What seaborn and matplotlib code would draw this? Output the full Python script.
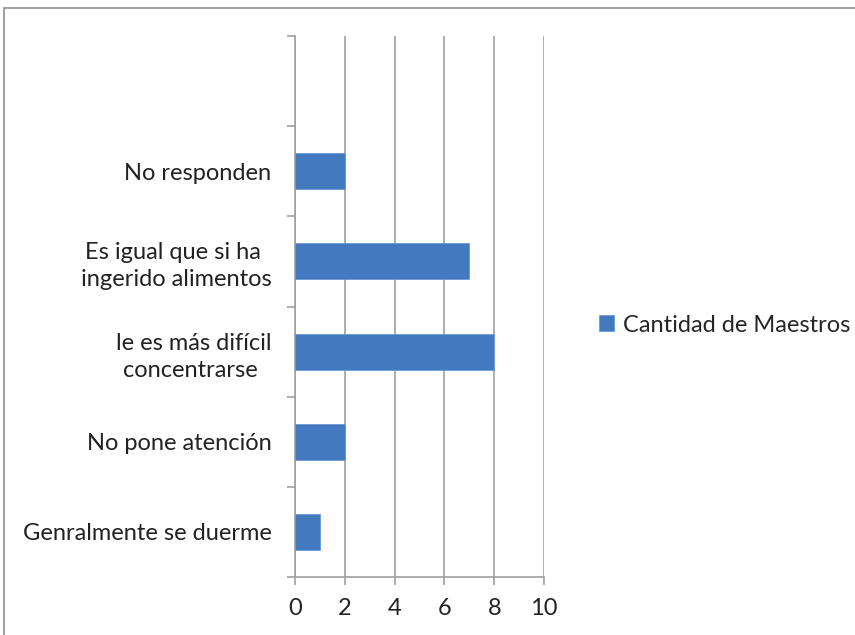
import matplotlib
matplotlib.use("Agg")
import matplotlib.pyplot as plt
from matplotlib.patches import Rectangle
from matplotlib.ticker import MultipleLocator
import seaborn as sns
import pandas as pd

categorias = ["No responden",
              "Es igual que si ha \ningerido alimentos",
              "le es más difícil\nconcentrarse ",
              "No pone atención",
              "Genralmente se duerme"]
cantidad = [2, 7, 8, 2, 1]
serie = "Cantidad de Maestros"

df = pd.DataFrame({"cat": categorias, "val": cantidad})

sns.set_style("white")
plt.rcParams['font.family'] = ['Lato', 'DejaVu Sans']

fig = plt.figure(figsize=(8.55, 6.35), dpi=100)
ax = fig.add_axes([295/855, 1-577/635, (544-295)/855, (577-36)/635])

sns.barplot(data=df, x="val", y="cat", order=categorias, orient="h",
            color="#4279BF", saturation=1, width=0.4, ax=ax, label=serie,
            edgecolor="#6A9AD6", linewidth=0.6, zorder=3)

ax.set_xlim(0, 10)
ax.set_ylim(4.5, -1.5)
ax.xaxis.set_major_locator(MultipleLocator(2))
ax.grid(axis="x", color="#A0A0A0", linewidth=1.2, zorder=0)
ax.set_axisbelow(True)
ax.set_xlabel("")
ax.set_ylabel("")

for s in ["top", "right"]:
    ax.spines[s].set_visible(False)
for s in ["left", "bottom"]:
    ax.spines[s].set_color("#A0A0A0")
    ax.spines[s].set_linewidth(1.2)

ax.set_yticks([i + 0.5 for i in range(-2, 5)], minor=True)
ax.tick_params(axis="y", which="major", left=True, length=0, pad=17,
               labelsize=17, labelcolor="#222222")
ax.tick_params(axis="y", which="minor", left=True, length=6, width=1.2,
               color="#A0A0A0", direction="out")
ax.tick_params(axis="x", bottom=True, length=6, width=1.2, color="#A0A0A0",
               direction="out", labelsize=17, labelcolor="#222222", pad=9)
for t in ax.get_yticklabels():
    t.set_multialignment("center")
    t.set_linespacing(1.35)

if ax.get_legend() is not None:
    ax.get_legend().remove()
h, l = ax.get_legend_handles_labels()
fig.legend(h[:1], [serie], loc="center left", bbox_to_anchor=(0.70, 1-325/635),
           frameon=False, fontsize=17, handlelength=0.65, handleheight=0.65,
           handletextpad=0.4, borderaxespad=0, borderpad=0)

fig.patches.append(Rectangle((4/855, -0.05), 1.1, 1.05 - 8/635,
                             transform=fig.transFigure, fill=False,
                             edgecolor="#8C8C8C", linewidth=1.2))

fig.savefig("out.png", dpi=100)
